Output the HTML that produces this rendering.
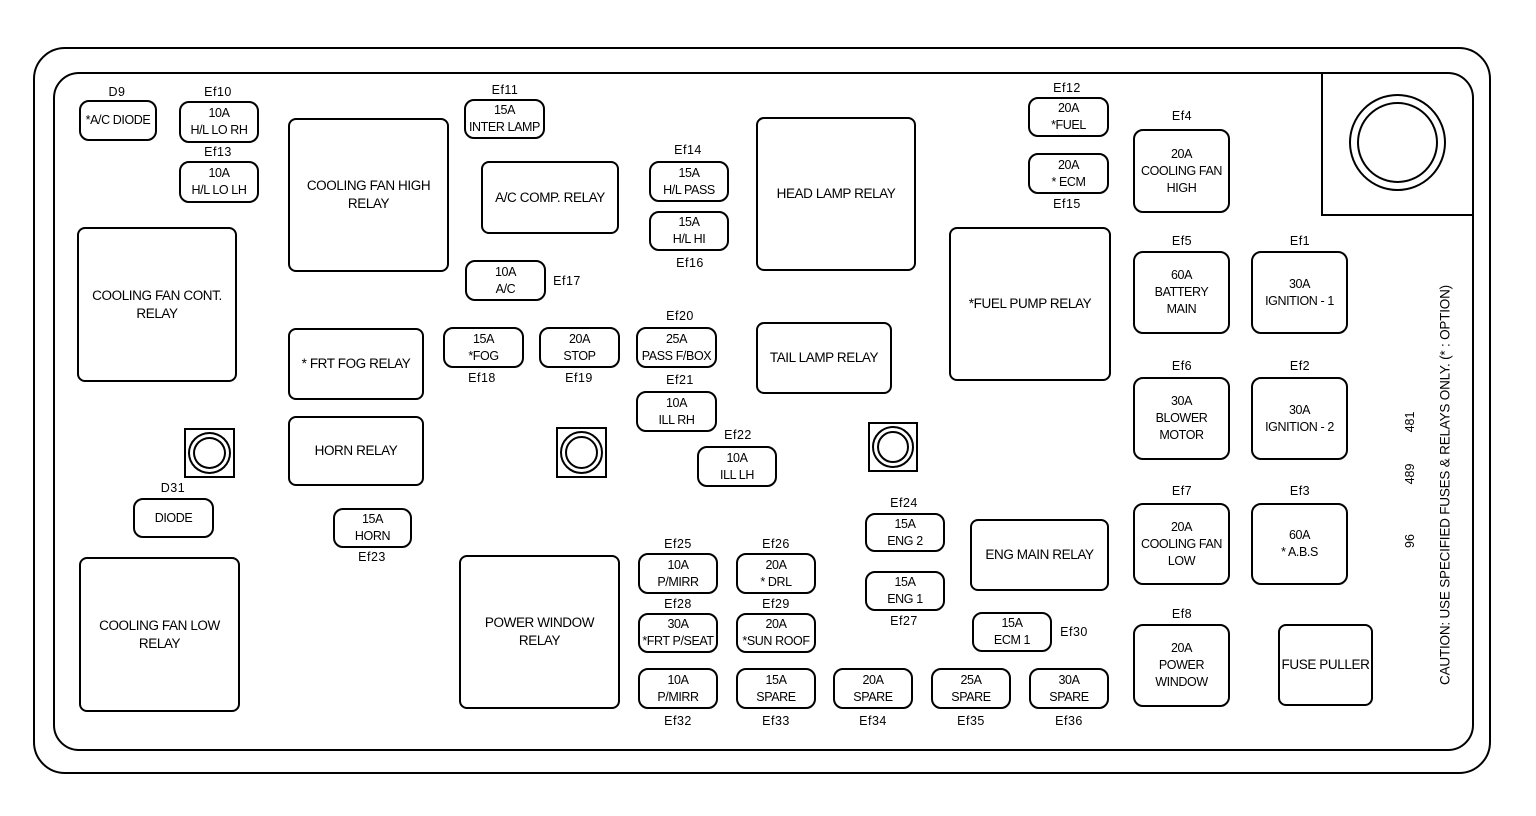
<!DOCTYPE html>
<html><head><meta charset="utf-8"><style>
*{box-sizing:border-box;margin:0;padding:0}
body{width:1536px;height:816px;background:#fff;position:relative;overflow:hidden;font-family:"Liberation Sans",Arial,sans-serif;color:#000}
.f{position:absolute;border:2.5px solid #000}
.b{position:absolute;border:2px solid #000;border-radius:10px;display:flex;align-items:center;justify-content:center;text-align:center;font-size:12.5px;line-height:17px;letter-spacing:-0.4px}
.r{border-radius:8px;font-size:13.5px;line-height:18px}
.l{position:absolute;font-size:12.5px;transform:translateX(-50%);letter-spacing:0.5px;line-height:14px}
.h{position:absolute;border:2px solid #000;background:#fff}
.h div{position:absolute;border:2px solid #000;border-radius:50%}
</style></head><body>
<div class="f" style="left:33px;top:47px;width:1458px;height:727px;border-radius:32px"></div>
<div class="f" style="left:53px;top:72px;width:1421px;height:679px;border-radius:26px"></div>
<div style="position:absolute;left:1321px;top:72px;width:153px;height:144px;border-left:2.5px solid #000;border-bottom:2.5px solid #000"></div>
<div style="position:absolute;left:1349px;top:94px;width:97px;height:97px;border:2.5px solid #000;border-radius:50%"></div>
<div style="position:absolute;left:1357px;top:102px;width:81px;height:81px;border:2.5px solid #000;border-radius:50%"></div>

<div class="l" style="left:117px;top:85px">D9</div>
<div class="b" style="left:79px;top:100px;width:78px;height:41px">*A/C DIODE</div>
<div class="l" style="left:218px;top:85px">Ef10</div>
<div class="b" style="left:179px;top:101px;width:80px;height:42px">10A<br>H/L LO RH</div>
<div class="l" style="left:218px;top:145px">Ef13</div>
<div class="b" style="left:179px;top:161px;width:80px;height:42px">10A<br>H/L LO LH</div>
<div class="b r" style="left:288px;top:118px;width:161px;height:154px">COOLING FAN HIGH<br>RELAY</div>
<div class="l" style="left:505px;top:83px">Ef11</div>
<div class="b" style="left:464px;top:99px;width:81px;height:40px">15A<br>INTER LAMP</div>
<div class="b r" style="left:481px;top:161px;width:138px;height:73px">A/C COMP. RELAY</div>
<div class="l" style="left:688px;top:143px">Ef14</div>
<div class="b" style="left:649px;top:161px;width:80px;height:41px">15A<br>H/L PASS</div>
<div class="b" style="left:649px;top:211px;width:80px;height:40px">15A<br>H/L HI</div>
<div class="l" style="left:690px;top:256px">Ef16</div>
<div class="b r" style="left:756px;top:117px;width:160px;height:154px">HEAD LAMP RELAY</div>
<div class="l" style="left:1067px;top:81px">Ef12</div>
<div class="b" style="left:1028px;top:97px;width:81px;height:40px">20A<br>*FUEL</div>
<div class="b" style="left:1028px;top:153px;width:81px;height:41px">20A<br>* ECM</div>
<div class="l" style="left:1067px;top:197px">Ef15</div>
<div class="l" style="left:1182px;top:109px">Ef4</div>
<div class="b" style="left:1133px;top:129px;width:97px;height:84px">20A<br>COOLING FAN<br>HIGH</div>
<div class="b r" style="left:77px;top:227px;width:160px;height:155px">COOLING FAN CONT.<br>RELAY</div>
<div class="b" style="left:465px;top:260px;width:81px;height:41px">10A<br>A/C</div>
<div class="l" style="left:567px;top:274px">Ef17</div>
<div class="b r" style="left:949px;top:227px;width:162px;height:154px">*FUEL PUMP RELAY</div>
<div class="l" style="left:1182px;top:234px">Ef5</div>
<div class="b" style="left:1133px;top:251px;width:97px;height:83px">60A<br>BATTERY<br>MAIN</div>
<div class="l" style="left:1300px;top:234px">Ef1</div>
<div class="b" style="left:1251px;top:251px;width:97px;height:83px">30A<br>IGNITION - 1</div>
<div class="b r" style="left:288px;top:328px;width:136px;height:72px">* FRT FOG RELAY</div>
<div class="b" style="left:443px;top:327px;width:81px;height:41px">15A<br>*FOG</div>
<div class="l" style="left:482px;top:371px">Ef18</div>
<div class="b" style="left:539px;top:327px;width:81px;height:41px">20A<br>STOP</div>
<div class="l" style="left:579px;top:371px">Ef19</div>
<div class="l" style="left:680px;top:309px">Ef20</div>
<div class="b" style="left:636px;top:327px;width:81px;height:41px">25A<br>PASS F/BOX</div>
<div class="l" style="left:680px;top:373px">Ef21</div>
<div class="b" style="left:636px;top:391px;width:81px;height:41px">10A<br>ILL RH</div>
<div class="b r" style="left:756px;top:322px;width:136px;height:72px">TAIL LAMP RELAY</div>
<div class="l" style="left:1182px;top:359px">Ef6</div>
<div class="b" style="left:1133px;top:377px;width:97px;height:83px">30A<br>BLOWER<br>MOTOR</div>
<div class="l" style="left:1300px;top:359px">Ef2</div>
<div class="b" style="left:1251px;top:377px;width:97px;height:83px">30A<br>IGNITION - 2</div>
<div class="b r" style="left:288px;top:416px;width:136px;height:70px">HORN RELAY</div>

<div class="h" style="left:184px;top:428px;width:51px;height:50px"><div style="left:2px;top:2px;width:43px;height:42px"></div><div style="left:7px;top:7px;width:33px;height:32px"></div></div>
<div class="h" style="left:556px;top:427px;width:51px;height:51px"><div style="left:2px;top:2px;width:43px;height:43px"></div><div style="left:7px;top:7px;width:33px;height:33px"></div></div>
<div class="h" style="left:868px;top:422px;width:50px;height:50px"><div style="left:2px;top:2px;width:42px;height:42px"></div><div style="left:7px;top:7px;width:32px;height:32px"></div></div>

<div class="l" style="left:738px;top:428px">Ef22</div>
<div class="b" style="left:697px;top:446px;width:80px;height:41px">10A<br>ILL LH</div>
<div class="l" style="left:173px;top:481px">D31</div>
<div class="b" style="left:133px;top:498px;width:81px;height:40px">DIODE</div>
<div class="b" style="left:333px;top:508px;width:79px;height:40px">15A<br>HORN</div>
<div class="l" style="left:372px;top:550px">Ef23</div>
<div class="l" style="left:904px;top:496px">Ef24</div>
<div class="b" style="left:865px;top:513px;width:80px;height:39px">15A<br>ENG 2</div>
<div class="b r" style="left:970px;top:519px;width:139px;height:72px">ENG MAIN RELAY</div>
<div class="l" style="left:1182px;top:484px">Ef7</div>
<div class="b" style="left:1133px;top:503px;width:97px;height:82px">20A<br>COOLING FAN<br>LOW</div>
<div class="l" style="left:1300px;top:484px">Ef3</div>
<div class="b" style="left:1251px;top:503px;width:97px;height:82px">60A<br>* A.B.S</div>
<div class="b r" style="left:79px;top:557px;width:161px;height:155px">COOLING FAN LOW<br>RELAY</div>
<div class="b r" style="left:459px;top:555px;width:161px;height:154px">POWER WINDOW<br>RELAY</div>
<div class="l" style="left:678px;top:537px">Ef25</div>
<div class="b" style="left:638px;top:553px;width:80px;height:41px">10A<br>P/MIRR</div>
<div class="l" style="left:776px;top:537px">Ef26</div>
<div class="b" style="left:736px;top:553px;width:80px;height:41px">20A<br>* DRL</div>
<div class="l" style="left:678px;top:597px">Ef28</div>
<div class="b" style="left:638px;top:613px;width:80px;height:40px">30A<br>*FRT P/SEAT</div>
<div class="l" style="left:776px;top:597px">Ef29</div>
<div class="b" style="left:736px;top:613px;width:80px;height:40px">20A<br>*SUN ROOF</div>
<div class="b" style="left:865px;top:571px;width:80px;height:40px">15A<br>ENG 1</div>
<div class="l" style="left:904px;top:614px">Ef27</div>
<div class="b" style="left:972px;top:612px;width:80px;height:40px">15A<br>ECM 1</div>
<div class="l" style="left:1074px;top:625px">Ef30</div>
<div class="l" style="left:1182px;top:607px">Ef8</div>
<div class="b" style="left:1133px;top:624px;width:97px;height:83px">20A<br>POWER<br>WINDOW</div>
<div class="b r" style="left:1278px;top:624px;width:95px;height:82px">FUSE PULLER</div>

<div class="b" style="left:638px;top:668px;width:80px;height:41px">10A<br>P/MIRR</div>
<div class="l" style="left:678px;top:714px">Ef32</div>
<div class="b" style="left:736px;top:668px;width:80px;height:41px">15A<br>SPARE</div>
<div class="l" style="left:776px;top:714px">Ef33</div>
<div class="b" style="left:833px;top:668px;width:80px;height:41px">20A<br>SPARE</div>
<div class="l" style="left:873px;top:714px">Ef34</div>
<div class="b" style="left:931px;top:668px;width:80px;height:41px">25A<br>SPARE</div>
<div class="l" style="left:971px;top:714px">Ef35</div>
<div class="b" style="left:1029px;top:668px;width:80px;height:41px">30A<br>SPARE</div>
<div class="l" style="left:1069px;top:714px">Ef36</div>

<div style="position:absolute;left:1445px;top:485px;transform:translate(-50%,-50%) rotate(-90deg);white-space:nowrap;font-size:13.5px;letter-spacing:-0.2px">CAUTION: USE SPECIFIED FUSES &amp; RELAYS ONLY. (* : OPTION)</div>
<div style="position:absolute;left:1410px;top:541px;transform:translate(-50%,-50%) rotate(-90deg);font-size:12.5px">96</div>
<div style="position:absolute;left:1410px;top:474px;transform:translate(-50%,-50%) rotate(-90deg);font-size:12.5px">489</div>
<div style="position:absolute;left:1410px;top:422px;transform:translate(-50%,-50%) rotate(-90deg);font-size:12.5px">481</div>
</body></html>
